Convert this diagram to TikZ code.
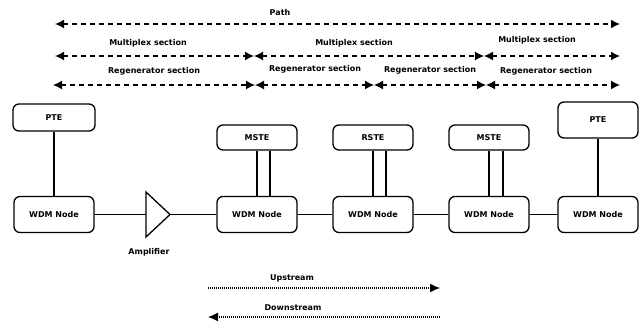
\documentclass[tikz,border=0pt]{standalone}
\usepackage{fontspec}
\setmainfont{DejaVu Sans}
\usetikzlibrary{arrows.meta}
\begin{document}
\begin{tikzpicture}[x=1pt,y=-1pt,
    box/.style={draw,line width=1.3pt,rounded corners=6pt,minimum width=80pt,minimum height=36pt,inner sep=0pt,font=\bfseries\fontsize{8}{9}\selectfont},
    lbl/.style={font=\bfseries\fontsize{8}{9}\selectfont,inner sep=0pt},
    sec/.style={line width=1.3pt,dash pattern=on 5pt off 4pt,{Latex[length=9pt,width=9pt]}-{Latex[length=9pt,width=9pt]}},
    flow/.style={line width=1.1pt,dash pattern=on 1pt off 1pt,-{Latex[length=10pt,width=9pt]}},
    wire/.style={line width=1.1pt}]
    \useasboundingbox (0,0) rectangle (640,322);
    % узлы WDM
    \node[box] (w1) at (54,214.5) {WDM Node};
    \node[box] (w2) at (257,214.5) {WDM Node};
    \node[box] (w3) at (373,214.5) {WDM Node};
    \node[box] (w4) at (489,214.5) {WDM Node};
    \node[box] (w5) at (598,214.5) {WDM Node};
    % оконечное оборудование
    \node[box,minimum width=82pt,minimum height=27pt] (pte1) at (54,117.5) {PTE};
    \node[box,minimum height=25pt] (mste1) at (257,137.5) {MSTE};
    \node[box,minimum height=25pt] (rste) at (373,137.5) {RSTE};
    \node[box,minimum height=25pt] (mste2) at (489,137.5) {MSTE};
    \node[box,minimum height=36pt] (pte2) at (598,120) {PTE};
    % усилитель
    \draw[wire,line width=1.3pt] (146,192) -- (170,214.5) -- (146,237) -- cycle;
    \coordinate (ampin) at (146,214.5);
    \coordinate (ampout) at (170,214.5);
    \node[lbl] (amp) at (149,252) {Amplifier};
    \draw[wire] (w1) -- (ampin);
    \draw[wire] (ampout) -- (w2);
    \draw[wire] (w2) -- (w3);
    \draw[wire] (w3) -- (w4);
    \draw[wire] (w4) -- (w5);
    \draw[wire] (pte1) -- (w1);
    \draw[wire] (pte2) -- (w5);
    \draw[wire] (mste1.south) -- (w2.north);
    \draw[wire] ([xshift=13pt]mste1.south) -- ([xshift=13pt]w2.north);
    \draw[wire] (rste.south) -- (w3.north);
    \draw[wire] ([xshift=13pt]rste.south) -- ([xshift=13pt]w3.north);
    \draw[wire] (mste2.south) -- (w4.north);
    \draw[wire] ([xshift=14pt]mste2.south) -- ([xshift=14pt]w4.north);
    % секции
    \coordinate (p0) at (55,24);
    \coordinate (p1) at (620,24);
    \coordinate (m0) at (55,56);
    \coordinate (m1) at (254,56);
    \coordinate (m2) at (484,56);
    \coordinate (m3) at (620,56);
    \coordinate (r0) at (53,85);
    \coordinate (r1) at (255,85);
    \coordinate (r2) at (374,85);
    \coordinate (r3) at (486,85);
    \coordinate (r4) at (620,85);
    \draw[sec] (p0) -- (p1);
    \draw[sec] (m0) -- (m1);
    \draw[sec] (m1) -- (m2);
    \draw[sec] (m2) -- (m3);
    \draw[sec] (r0) -- (r1);
    \draw[sec] (r1) -- (r2);
    \draw[sec] (r2) -- (r3);
    \draw[sec] (r3) -- (r4);
    \node[lbl] (path) at (280,13) {Path};
    \node[lbl] (ms1) at (148,43) {Multiplex section};
    \node[lbl] (ms2) at (354,43) {Multiplex section};
    \node[lbl] (ms3) at (537,40) {Multiplex section};
    \node[lbl] (rs1) at (154,71) {Regenerator section};
    \node[lbl] (rs2) at (315,69) {Regenerator section};
    \node[lbl] (rs3) at (430,70) {Regenerator section};
    \node[lbl] (rs4) at (546,71) {Regenerator section};
    % направления
    \coordinate (u0) at (208,288);
    \coordinate (u1) at (440,288);
    \coordinate (d0) at (440,317);
    \coordinate (d1) at (208,317);
    \draw[flow] (u0) -- (u1);
    \draw[flow] (d0) -- (d1);
    \node[lbl] (up) at (292,278) {Upstream};
    \node[lbl] (down) at (293,308) {Downstream};
\end{tikzpicture}
\end{document}
